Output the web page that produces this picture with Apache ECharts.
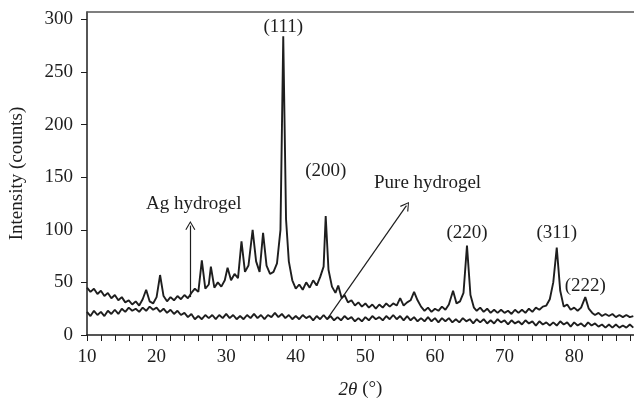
<!DOCTYPE html>
<html>
<head>
<meta charset="utf-8">
<script src="https://cdn.jsdelivr.net/npm/echarts@6/dist/echarts.min.js"></script>
<style>
    html, body { margin: 0; padding: 0; background: #fff; }
    #chart { width: 634px; height: 398px; }
</style>
</head>
<body>
<div id="chart"></div>
<script>
// Ag hydrogel pattern (upper trace)
const agTheta = [10, 10.5, 11, 11.5, 12, 12.5, 13, 13.5, 14, 14.5, 15, 15.5, 16, 16.5, 17, 17.5, 18, 18.5, 19, 19.5,
    20, 20.5, 21, 21.5, 22, 22.5, 23, 23.5, 24, 24.5, 25, 25.5, 26, 26.5, 27, 27.5, 27.8, 28.3, 28.8, 29.3,
    29.8, 30.2, 30.7, 31.2, 31.7, 32.2, 32.7, 33.2, 33.8, 34.3, 34.8, 35.3, 35.8, 36.3, 36.8, 37.3, 37.8, 38.2, 38.6, 39,
    39.5, 40, 40.5, 41, 41.5, 42, 42.5, 43, 43.5, 44, 44.3, 44.7, 45.2, 45.7, 46.1, 46.6, 47, 47.5, 48, 48.5,
    49, 49.5, 50, 50.5, 51, 51.5, 52, 52.5, 53, 53.5, 54, 54.5, 55, 55.5, 56, 56.5, 57, 57.5, 58, 58.5,
    59, 59.5, 60, 60.5, 61, 61.5, 62, 62.6, 63.1, 63.6, 64.1, 64.6, 65.1, 65.6, 66, 66.5, 67, 67.5, 68, 68.5,
    69, 69.5, 70, 70.5, 71, 71.5, 72, 72.5, 73, 73.5, 74, 74.5, 75, 75.5, 76, 76.5, 77, 77.5, 78, 78.5,
    79, 79.5, 80, 80.5, 81, 81.6, 82.1, 82.6, 83, 83.5, 84, 84.5, 85, 85.5, 86, 86.5, 87, 87.5, 88, 88.5]
const agCounts = [45, 41, 44, 39, 42, 37, 40, 35, 38, 33, 36, 31, 33, 29, 32, 28, 34, 43, 32, 30,
    36, 57, 37, 32, 36, 33, 37, 34, 38, 35, 40, 44, 41, 71, 44, 48, 65, 45, 50, 46,
    52, 64, 52, 58, 54, 89, 60, 66, 100, 70, 60, 97, 66, 58, 60, 68, 100, 284, 110, 70,
    52, 44, 48, 43, 50, 45, 52, 47, 55, 65, 113, 62, 46, 40, 47, 35, 38, 31, 33, 28,
    31, 27, 30, 26, 29, 25, 29, 26, 30, 27, 30, 28, 35, 28, 31, 33, 41, 33, 27, 23,
    26, 22, 25, 23, 27, 24, 29, 42, 30, 32, 40, 85, 38, 26, 23, 26, 22, 25, 21, 24,
    21, 24, 21, 23, 20, 24, 21, 24, 21, 25, 22, 26, 24, 27, 28, 34, 50, 83, 42, 27,
    29, 24, 26, 23, 26, 36, 25, 21, 19, 21, 18, 20, 18, 20, 17, 19, 17, 19, 17, 18]

// pure hydrogel pattern (lower trace)
const pureTheta = [10, 10.5, 11, 11.5, 12, 12.5, 13, 13.5, 14, 14.5, 15, 15.5, 16, 16.5, 17, 17.5, 18, 18.5, 19, 19.5,
    20, 20.5, 21, 21.5, 22, 22.5, 23, 23.5, 24, 24.5, 25, 25.5, 26, 26.5, 27, 27.5, 28, 28.5, 29, 29.5,
    30, 30.5, 31, 31.5, 32, 32.5, 33, 33.5, 34, 34.5, 35, 35.5, 36, 36.5, 37, 37.5, 38, 38.5, 39, 39.5,
    40, 40.5, 41, 41.5, 42, 42.5, 43, 43.5, 44, 44.5, 45, 45.5, 46, 46.5, 47, 47.5, 48, 48.5, 49, 49.5,
    50, 50.5, 51, 51.5, 52, 52.5, 53, 53.5, 54, 54.5, 55, 55.5, 56, 56.5, 57, 57.5, 58, 58.5, 59, 59.5,
    60, 60.5, 61, 61.5, 62, 62.5, 63, 63.5, 64, 64.5, 65, 65.5, 66, 66.5, 67, 67.5, 68, 68.5, 69, 69.5,
    70, 70.5, 71, 71.5, 72, 72.5, 73, 73.5, 74, 74.5, 75, 75.5, 76, 76.5, 77, 77.5, 78, 78.5, 79, 79.5,
    80, 80.5, 81, 81.5, 82, 82.5, 83, 83.5, 84, 84.5, 85, 85.5, 86, 86.5, 87, 87.5, 88, 88.5]
const pureCounts = [22, 18, 23, 19, 22, 18, 23, 20, 24, 20, 25, 22, 26, 23, 25, 22, 26, 23, 27, 24,
    26, 22, 25, 21, 24, 20, 23, 19, 21, 17, 20, 15, 18, 15, 19, 16, 19, 15, 19, 16,
    20, 16, 19, 15, 18, 15, 19, 16, 20, 16, 19, 15, 19, 17, 21, 17, 20, 16, 19, 15,
    18, 15, 19, 16, 18, 14, 18, 15, 19, 15, 18, 14, 17, 14, 18, 15, 17, 13, 16, 13,
    17, 14, 18, 15, 17, 14, 18, 15, 19, 15, 18, 14, 18, 14, 17, 13, 16, 13, 17, 13,
    16, 12, 16, 13, 16, 12, 15, 12, 16, 13, 15, 11, 15, 12, 15, 11, 14, 11, 15, 12,
    14, 10, 14, 11, 13, 10, 14, 11, 13, 9, 13, 10, 12, 9, 12, 9, 13, 10, 12, 8,
    12, 9, 11, 8, 12, 9, 11, 8, 10, 7, 10, 7, 10, 7, 9, 7, 10, 7]

// peak labels: [text, theta, counts]
const peakLabels = [
    ['(111)', 38.2, 293],
    ['(200)', 44.3, 156],
    ['(220)', 64.6, 97],
    ['(311)', 77.5, 97],
    ['(222)', 81.6, 47]
]

const font = 'Liberation Serif'
const ink = '#1e1e1e'
const fs = 19

function pairs(xs, ys) {
    return xs.map((x, i) => [x, ys[i]])
}

const chart = echarts.init(document.getElementById('chart'), null, { renderer: 'canvas' })

// open arrow head, drawn pointing up
const openArrow = 'path://M0,10 L5,0 L10,10 L9,10.8 L5,2.2 L1,10.8 Z'

let option = {
    animation: false,
    backgroundColor: '#fff',
    grid: { left: 87, right: 0, top: 12, bottom: 63, outerBoundsMode: 'none' },
    xAxis: [{
        type: 'value',
        min: 10,
        max: 88.6,
        interval: 2,
        name: '{it|2θ} (°)',
        nameLocation: 'middle',
        nameGap: 45,
        nameTextStyle: {
            fontFamily: font, fontSize: fs, color: ink,
            rich: { it: { fontFamily: font, fontSize: fs, fontStyle: 'italic', color: ink } }
        },
        axisLine: { lineStyle: { color: ink, width: 1.5 } },
        axisTick: { inside: false, length: 6, lineStyle: { color: ink, width: 1 } },
        axisLabel: {
            fontFamily: font, fontSize: fs, color: ink, margin: 13,
            showMaxLabel: false,
            formatter: v => (v % 10 === 0 ? String(v) : '')
        },
        splitLine: { show: false }
    }, {
        type: 'value',
        position: 'top',
        min: 10,
        max: 88.6,
        axisLine: { lineStyle: { color: '#555', width: 1.5 } },
        axisTick: { show: false },
        axisLabel: { show: false },
        splitLine: { show: false }
    }],
    yAxis: {
        type: 'value',
        min: 0,
        max: 307,
        interval: 50,
        name: 'Intensity (counts)',
        nameLocation: 'middle',
        nameGap: 60,
        nameTextStyle: { fontFamily: font, fontSize: fs, color: ink },
        axisLine: { show: true, lineStyle: { color: ink, width: 1.5 } },
        axisTick: { show: true, length: 6, lineStyle: { color: ink, width: 1 } },
        axisLabel: { fontFamily: font, fontSize: fs, color: ink, margin: 14, showMaxLabel: false },
        splitLine: { show: false }
    },
    series: [
        {
            name: 'Ag hydrogel',
            type: 'line',
            data: pairs(agTheta, agCounts),
            showSymbol: false,
            lineStyle: { color: ink, width: 1.9 },
            markLine: {
                silent: true,
                symbol: ['none', openArrow],
                symbolSize: [10, 9],
                label: { show: false },
                lineStyle: { color: ink, width: 1.2, type: 'solid' },
                data: [
                    [{ coord: [24.85, 36] }, { coord: [24.85, 104] }],
                    [{ coord: [44.6, 16] }, { coord: [55.9, 123] }]
                ]
            },
            markPoint: {
                silent: true,
                symbol: 'circle',
                symbolSize: 0,
                label: {
                    show: true, position: 'inside', fontFamily: font, fontSize: fs, color: ink,
                    formatter: p => p.name
                },
                data: peakLabels.map(p => ({ name: p[0], coord: [p[1], p[2]] }))
            }
        },
        {
            name: 'Pure hydrogel',
            type: 'line',
            data: pairs(pureTheta, pureCounts),
            showSymbol: false,
            lineStyle: { color: ink, width: 1.9 }
        }
    ],
    graphic: [
        { type: 'text', left: 146, top: 195, style: { text: 'Ag hydrogel', fontFamily: font, fontSize: fs, fill: ink } },
        { type: 'text', left: 374, top: 174, style: { text: 'Pure hydrogel', fontFamily: font, fontSize: fs, fill: ink } }
    ]
}

chart.setOption(option)
</script>
</body>
</html>
